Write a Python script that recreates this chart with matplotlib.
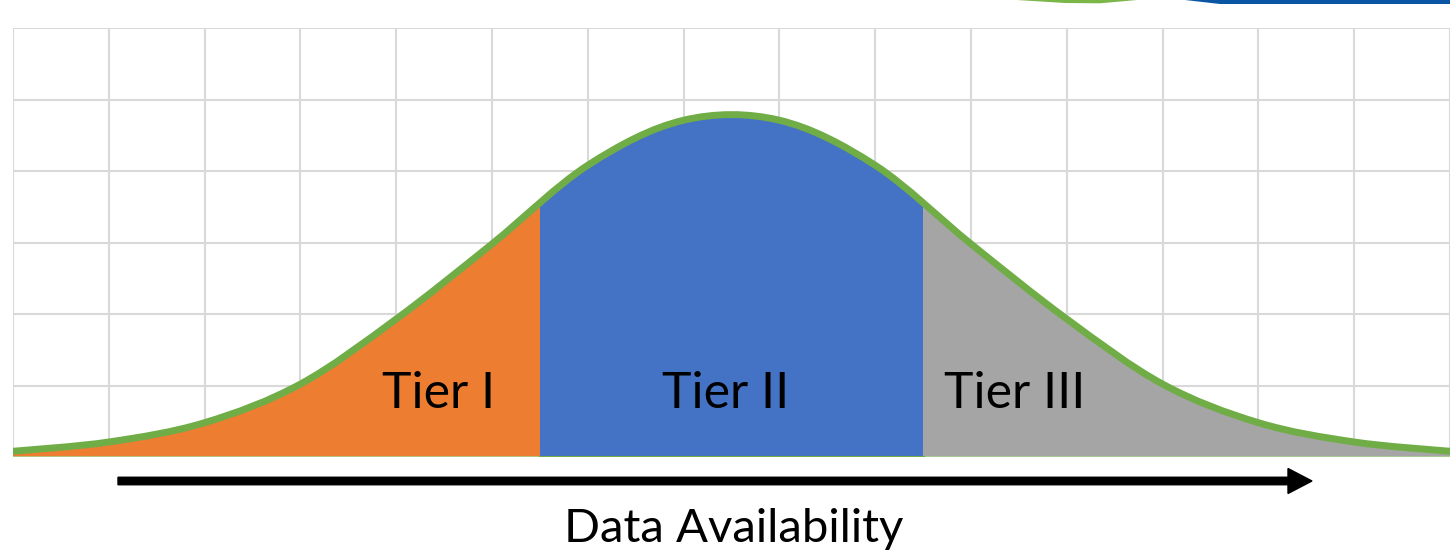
import numpy as np
import matplotlib
matplotlib.use("Agg")
import matplotlib.pyplot as plt
from matplotlib.path import Path
from matplotlib.patches import PathPatch, FancyArrow, Polygon
from matplotlib.transforms import IdentityTransform

plt.rcParams["font.family"] = ["Lato", "DejaVu Sans"]

# values (one point per vertical gridline)
positions = list(range(16))
values = [0.08, 0.21, 0.48, 1.02, 1.93, 2.98, 4.08, 4.71, 4.71, 4.08, 2.98, 1.93, 1.02, 0.48, 0.21, 0.08]

tier_names = ["Tier I", "Tier II", "Tier III"]
tier_edges = [0, 5.5, 9.5, 15]
tier_colors = ["#ED7D31", "#4472C4", "#A5A5A5"]
label_x = [4.44, 7.44, 10.46]

green = "#70AD47"


def smooth_path(xs, ys):
    # excel style smoothed line: bezier segments through every point
    pts = np.column_stack([xs, ys]).astype(float)
    n = len(pts)
    verts = [pts[0]]
    codes = [Path.MOVETO]
    for i in range(n - 1):
        p0 = pts[max(i - 1, 0)]
        p1 = pts[i]
        p2 = pts[i + 1]
        p3 = pts[min(i + 2, n - 1)]
        c1 = p1 + (p2 - p0) / 6
        c2 = p2 - (p3 - p1) / 6
        verts += [c1, c2, p2]
        codes += [Path.CURVE4] * 3
    return verts, codes


fig = plt.figure(figsize=(14.5, 5.55), dpi=100)
ax = fig.add_axes([13 / 1450, 98 / 555, 1 - 13 / 1450, 429 / 555])

verts, codes = smooth_path(positions, values)

# area under the curve, used to clip the tier fills
area_verts = verts + [(positions[-1], 0), (positions[0], 0), (positions[0], values[0])]
area_codes = codes + [Path.LINETO, Path.LINETO, Path.CLOSEPOLY]
area = PathPatch(Path(area_verts, area_codes), facecolor="none", edgecolor="none")
ax.add_patch(area)

for i in range(3):
    span = ax.axvspan(tier_edges[i], tier_edges[i + 1], color=tier_colors[i], lw=0, zorder=2)
    span.set_clip_path(area)

ax.plot([tier_edges[0], tier_edges[-1]], [0, 0], color="#A9D18E", lw=1.2, zorder=3)
ax.plot([tier_edges[1], tier_edges[2]], [0, 0], color=green, lw=2.2, zorder=3)

line = PathPatch(Path(verts, codes), facecolor="none", edgecolor=green, lw=5,
                 capstyle="round", joinstyle="round", zorder=4)
ax.add_patch(line)

for name, x in zip(tier_names, label_x):
    ax.text(x, 0.685, name, ha="center", va="baseline", fontsize=36, color="black", zorder=5)

ax.set_xlim(0, (1450 - 13) / 96)
ax.set_ylim(0, 6)
ax.set_xticks(positions)
ax.set_yticks(range(7))
ax.grid(True, color="#D9D9D9", lw=1.5)
ax.set_axisbelow(True)
ax.tick_params(length=0, labelbottom=False, labelleft=False)
for s in ax.spines.values():
    s.set_visible(False)

# arrow under the chart
arrow = FancyArrow(118, 555 - 481, 1312 - 118, 0, width=7.5, head_width=25, head_length=24,
                   length_includes_head=True, color="black", transform=IdentityTransform())
fig.add_artist(arrow)

fig.text(734 / 1450, (555 - 542) / 555, "Data Availability", ha="center", va="baseline",
         fontsize=34, color="black")

# bits of shapes cut off at the top edge
fig.add_artist(Polygon([(1017 / 1450, 1.0), (1137 / 1450, 1.0), (1100 / 1450, 1 - 3.3 / 555),
                        (1065 / 1450, 1 - 3 / 555)], closed=True, color="#7AB648", lw=0,
                       transform=fig.transFigure))
fig.add_artist(Polygon([(1185 / 1450, 1.0), (1.0, 1.0), (1.0, 1 - 4 / 555),
                        (1220 / 1450, 1 - 4 / 555)], closed=True, color="#0B56A4", lw=0,
                       transform=fig.transFigure))

plt.savefig("out.png", dpi=100)
